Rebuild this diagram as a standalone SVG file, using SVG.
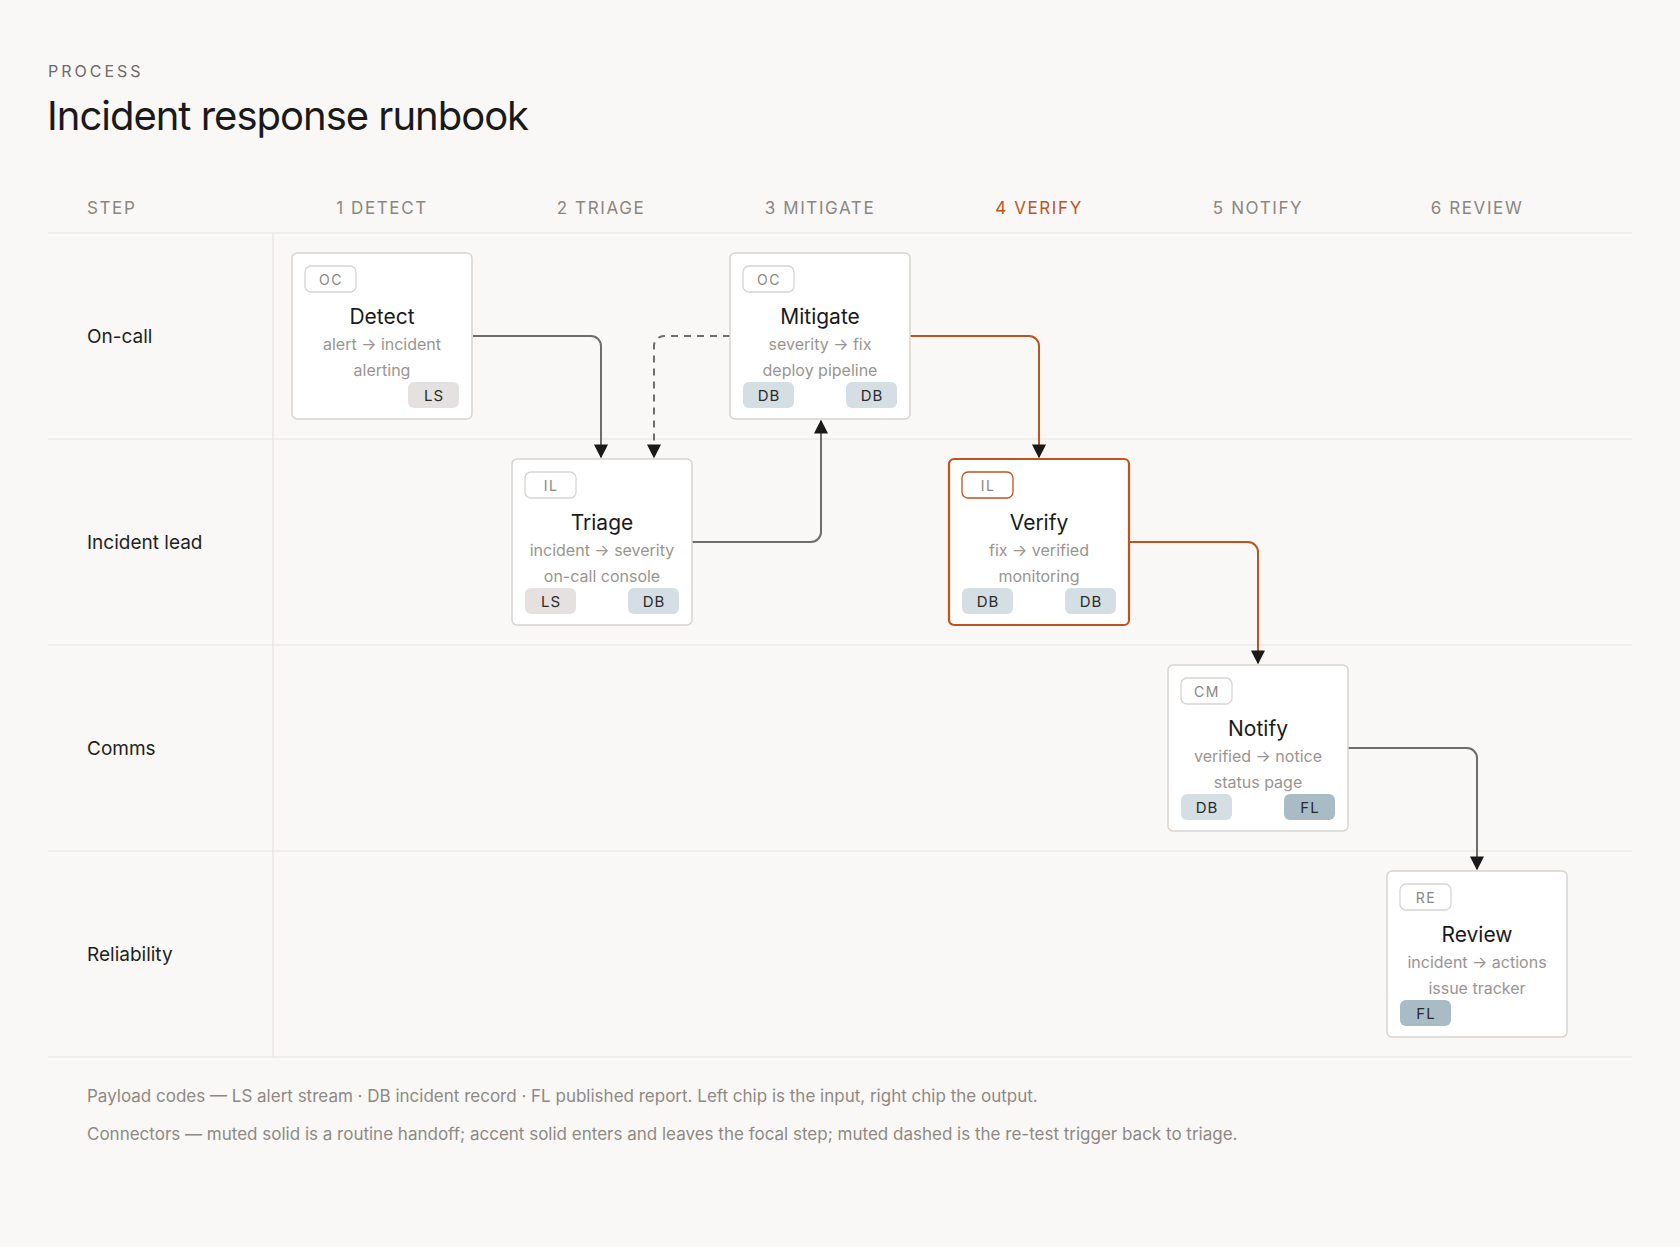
<svg xmlns="http://www.w3.org/2000/svg" width="1680" height="1247" viewBox="0 0 1680 1247">
<style>
text{font-family:Inter,"Liberation Sans",sans-serif}
.hd{font-size:17px;letter-spacing:1.6px;fill:#8a8682;text-anchor:middle}
.lane{font-size:19px;fill:#1f1f1e}
.rule{stroke:#e6e3df;stroke-width:1.2}
.box{fill:#fff;stroke:#d8d4cf;stroke-width:1.5}
.tag{fill:#fff;stroke:#d8d4cf;stroke-width:1.3}
.tagt{font-size:14px;fill:#8a8682;text-anchor:middle;letter-spacing:1.5px}
.ttl{font-size:21px;fill:#1a1a1a;text-anchor:middle}
.sub{font-size:16px;fill:#9a9590;text-anchor:middle}
.chipt{font-size:15px;fill:#2a2a2a;text-anchor:middle;letter-spacing:1px}
.ls{fill:#e4e1e0}.db{fill:#d4dee3}.fl{fill:#a9bcc5}
.m{fill:none;stroke:#6e6d69;stroke-width:2}
.a{fill:none;stroke:#c0531d;stroke-width:2}
.ft{font-size:17px;fill:#8e8984}
</style>
<defs>
<marker id="ah" viewBox="0 0 10 10" refX="9" refY="5" markerWidth="7" markerHeight="7" orient="auto"><path d="M0,0L10,5L0,10z" fill="#1a1a1a"/></marker>
</defs>
<rect width="1680" height="1247" fill="#f9f8f6"/>
<text x="48" y="77" font-size="16" fill="#6e6a66" letter-spacing="3">PROCESS</text>
<text x="47" y="130" font-size="40" fill="#1a1a1a" letter-spacing="-1">Incident response runbook</text>
<g id="header">
<text x="87" y="214" class="hd" text-anchor="start" style="text-anchor:start">STEP</text>
<text x="382" y="214" class="hd">1 DETECT</text>
<text x="601" y="214" class="hd">2 TRIAGE</text>
<text x="820" y="214" class="hd">3 MITIGATE</text>
<text x="1039" y="214" class="hd" style="fill:#c0531d">4 VERIFY</text>
<text x="1258" y="214" class="hd">5 NOTIFY</text>
<text x="1477" y="214" class="hd">6 REVIEW</text>
</g>
<g id="grid">
<line x1="48" y1="233" x2="1632" y2="233" class="rule"/>
<line x1="48" y1="439" x2="1632" y2="439" class="rule"/>
<line x1="48" y1="645" x2="1632" y2="645" class="rule"/>
<line x1="48" y1="851" x2="1632" y2="851" class="rule"/>
<line x1="48" y1="1057" x2="1632" y2="1057" class="rule"/>
<line x1="273" y1="233" x2="273" y2="1057" class="rule"/>
<text x="87" y="343" class="lane">On-call</text>
<text x="87" y="549" class="lane">Incident lead</text>
<text x="87" y="755" class="lane">Comms</text>
<text x="87" y="961" class="lane">Reliability</text>
</g>
<g id="connectors">
<path class="m" d="M473,336H591a10,10 0 0 1 10,10V457" marker-end="url(#ah)"/>
<path class="m" d="M730,336H664a10,10 0 0 0 -10,10V457" stroke-dasharray="7,6" marker-end="url(#ah)"/>
<path class="m" d="M692,542H811a10,10 0 0 0 10,-10V421" marker-end="url(#ah)"/>
<path class="a" d="M910,336H1029a10,10 0 0 1 10,10V457" marker-end="url(#ah)"/>
<path class="a" d="M1129,542H1248a10,10 0 0 1 10,10V663" marker-end="url(#ah)"/>
<path class="m" d="M1348,748H1467a10,10 0 0 1 10,10V869" marker-end="url(#ah)"/>
</g>
<g id="detect" transform="translate(292,253)">
<rect class="box" width="180" height="166" rx="5"/>
<rect class="tag" x="13" y="13" width="51" height="26" rx="6"/><text class="tagt" x="39" y="32">OC</text>
<text class="ttl" x="90" y="71">Detect</text>
<text class="sub" x="90" y="97">alert → incident</text>
<text class="sub" x="90" y="123">alerting</text>
<rect class="ls" x="116" y="129" width="51" height="26" rx="6"/><text class="chipt" x="142" y="148">LS</text>
</g>
<g id="triage" transform="translate(512,459)">
<rect class="box" width="180" height="166" rx="5"/>
<rect class="tag" x="13" y="13" width="51" height="26" rx="6"/><text class="tagt" x="39" y="32">IL</text>
<text class="ttl" x="90" y="71">Triage</text>
<text class="sub" x="90" y="97">incident → severity</text>
<text class="sub" x="90" y="123">on-call console</text>
<rect class="ls" x="13" y="129" width="51" height="26" rx="6"/><text class="chipt" x="39" y="148">LS</text>
<rect class="db" x="116" y="129" width="51" height="26" rx="6"/><text class="chipt" x="142" y="148">DB</text>
</g>
<g id="mitigate" transform="translate(730,253)">
<rect class="box" width="180" height="166" rx="5"/>
<rect class="tag" x="13" y="13" width="51" height="26" rx="6"/><text class="tagt" x="39" y="32">OC</text>
<text class="ttl" x="90" y="71">Mitigate</text>
<text class="sub" x="90" y="97">severity → fix</text>
<text class="sub" x="90" y="123">deploy pipeline</text>
<rect class="db" x="13" y="129" width="51" height="26" rx="6"/><text class="chipt" x="39" y="148">DB</text>
<rect class="db" x="116" y="129" width="51" height="26" rx="6"/><text class="chipt" x="142" y="148">DB</text>
</g>
<g id="verify" transform="translate(949,459)">
<rect class="box" width="180" height="166" rx="5" style="stroke:#c0531d;stroke-width:2.2"/>
<rect class="tag" x="13" y="13" width="51" height="26" rx="6" style="stroke:#c0531d"/><text class="tagt" x="39" y="32">IL</text>
<text class="ttl" x="90" y="71">Verify</text>
<text class="sub" x="90" y="97">fix → verified</text>
<text class="sub" x="90" y="123">monitoring</text>
<rect class="db" x="13" y="129" width="51" height="26" rx="6"/><text class="chipt" x="39" y="148">DB</text>
<rect class="db" x="116" y="129" width="51" height="26" rx="6"/><text class="chipt" x="142" y="148">DB</text>
</g>
<g id="notify" transform="translate(1168,665)">
<rect class="box" width="180" height="166" rx="5"/>
<rect class="tag" x="13" y="13" width="51" height="26" rx="6"/><text class="tagt" x="39" y="32">CM</text>
<text class="ttl" x="90" y="71">Notify</text>
<text class="sub" x="90" y="97">verified → notice</text>
<text class="sub" x="90" y="123">status page</text>
<rect class="db" x="13" y="129" width="51" height="26" rx="6"/><text class="chipt" x="39" y="148">DB</text>
<rect class="fl" x="116" y="129" width="51" height="26" rx="6"/><text class="chipt" x="142" y="148">FL</text>
</g>
<g id="review" transform="translate(1387,871)">
<rect class="box" width="180" height="166" rx="5"/>
<rect class="tag" x="13" y="13" width="51" height="26" rx="6"/><text class="tagt" x="39" y="32">RE</text>
<text class="ttl" x="90" y="71">Review</text>
<text class="sub" x="90" y="97">incident → actions</text>
<text class="sub" x="90" y="123">issue tracker</text>
<rect class="fl" x="13" y="129" width="51" height="26" rx="6"/><text class="chipt" x="39" y="148">FL</text>
</g>
<g id="footer">
<text class="ft" x="87" y="1102">Payload codes — LS alert stream · DB incident record · FL published report. Left chip is the input, right chip the output.</text>
<text class="ft" x="87" y="1140">Connectors — muted solid is a routine handoff; accent solid enters and leaves the focal step; muted dashed is the re-test trigger back to triage.</text>
</g>
</svg>
